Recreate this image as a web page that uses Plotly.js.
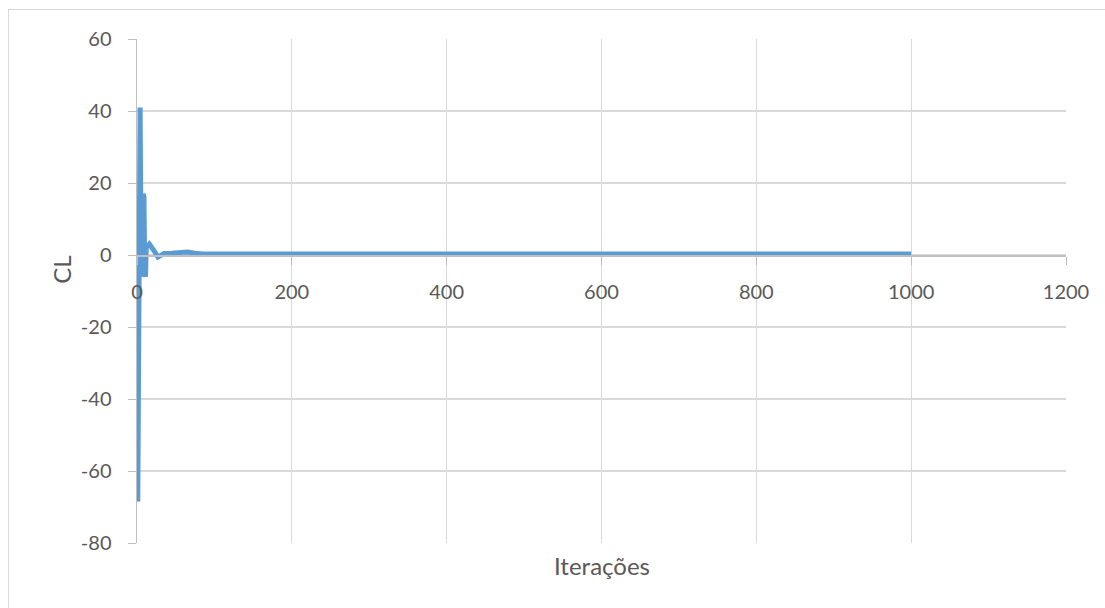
<!DOCTYPE html>
<html>
<head>
<meta charset="utf-8">
<script src="https://cdn.plot.ly/plotly-3.0.1.min.js"></script>
<style>
  html, body { margin: 0; padding: 0; background: #fff; overflow: hidden; }
  #frame { position: absolute; left: 8px; top: 9px; width: 1110px; height: 610px; border: 1px solid #d9d9d9; pointer-events: none; }
  #chart { position: absolute; left: 0; top: 0; width: 1105px; height: 608px; }
</style>
</head>
<body>
<div id="chart"></div>
<div id="frame"></div>
<script>
// Iteration numbers and lift coefficient values
const iterations = [1, 2, 3, 4, 5, 6, 7, 8, 9, 10, 11, 12, 14, 16, 18, 20, 24, 27, 30, 35, 45, 55, 65, 75, 85, 100, 110, 120, 200, 300, 400, 500, 600, 700, 800, 900, 1000];
const clValues   = [-68.5, -30, 5, 41, 10, -6, 5, 17, 16, -5, -6, 3, 2.5, 3, 2.5, 2, 0.5, -0.6, -0.2, 0.4, 0.5, 0.6, 0.8, 0.5, 0.25, 0.25, 0.3, 0.25, 0.25, 0.25, 0.25, 0.25, 0.25, 0.25, 0.25, 0.25, 0.25];
const xTicks = [0, 200, 400, 600, 800, 1000, 1200];
const yTicks = [-80, -60, -40, -20, 0, 20, 40, 60];
const xTitle = "Iterações";
const yTitle = "CL";

const tickFont = { family: "Lato, 'Open Sans', sans-serif", size: 20, color: "#595959" };
const titleFont = { family: "Lato, 'Open Sans', sans-serif", size: 24, color: "#595959" };

const trace = {
  x: iterations, y: clValues, type: "scatter", mode: "lines",
  line: { color: "#5b9bd5", width: 5 }, hoverinfo: "skip"
};

const layout = {
  width: 1105, height: 608,
  margin: { l: 137, r: 39, t: 39, b: 65 },
  paper_bgcolor: "rgba(0,0,0,0)", plot_bgcolor: "#fff",
  showlegend: false,
  font: tickFont,
  xaxis: {
    range: [0, 1200], tickvals: xTicks, ticktext: xTicks.map(String),
    anchor: "free", position: (0 - (-80)) / (60 - (-80)),
    showline: true, linecolor: "#bfbfbf", linewidth: 1.5,
    ticks: "outside", ticklen: 8, tickcolor: "#bfbfbf",
    ticklabelstandoff: 10,
    showgrid: true, gridcolor: "#d9d9d9", gridwidth: 1.3, zeroline: false,
    tickfont: tickFont, fixedrange: true
  },
  yaxis: {
    range: [-80, 60], tickvals: yTicks, ticktext: yTicks.map(String),
    showline: true, linecolor: "#bfbfbf", linewidth: 1.5,
    ticks: "outside", ticklen: 8, tickcolor: "#bfbfbf",
    ticklabelstandoff: 12,
    showgrid: true, gridcolor: "#d9d9d9", gridwidth: 1.3, zeroline: false,
    tickfont: tickFont, fixedrange: true
  },
  annotations: [
    { text: xTitle, xref: "paper", yref: "paper", x: 0.5, y: -0.0437, xanchor: "center", yanchor: "middle", showarrow: false, font: titleFont },
    { text: yTitle, xref: "paper", yref: "paper", x: -0.081, y: 0.5417, xanchor: "center", yanchor: "middle", textangle: -90, showarrow: false, font: titleFont }
  ]
};

Plotly.newPlot("chart", [trace], layout, { displayModeBar: false, staticPlot: true });
</script>
</body>
</html>
